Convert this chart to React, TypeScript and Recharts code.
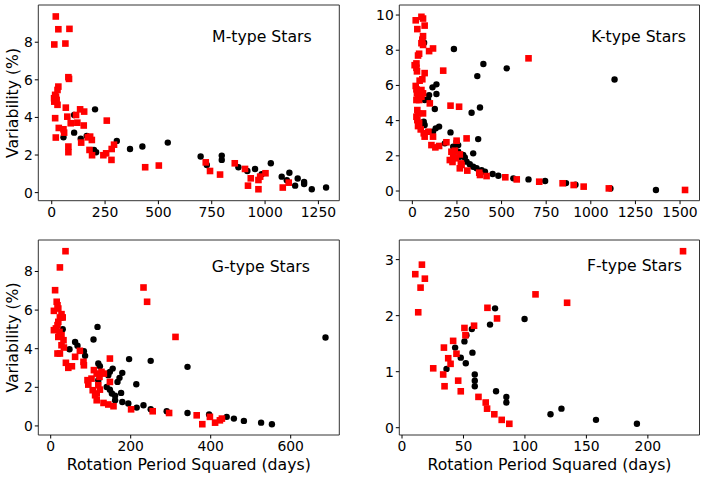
import React from 'react';
import { ScatterChart, Scatter, XAxis, YAxis, ReferenceArea } from 'recharts';

// [rotation period squared, variability %]
const mBlack: [number, number][] = [
  [55, 2.94], [105, 4.13], [105, 3.19], [136, 2.87], [203, 4.43], [164, 3.02],
  [198, 2.27], [208, 2.15], [305, 2.75], [367, 2.32], [425, 2.45], [544, 2.66],
  [698, 1.92], [727, 1.47], [797, 1.97], [797, 1.74], [875, 1.35], [917, 1.15],
  [953, 1.26], [984, 0.98], [1027, 1.56], [1078, 0.85], [1102, 0.66], [1114, 1.06],
  [1141, 0.37], [1153, 0.75], [1183, 0.57], [1183, 0.46], [1219, 0.18], [1286, 0.27],
];
const mRed: [number, number][] = [
  [19, 9.37], [31, 8.69], [83, 8.71], [12, 7.88], [64, 7.93], [78, 6.14], [81, 6.05],
  [31, 5.64], [27, 5.46], [16, 5.2], [11, 5.02], [12, 4.84], [23, 4.93], [27, 4.67],
  [20, 5.1], [66, 4.52], [16, 3.96], [73, 4.04], [114, 4.13], [133, 4.43], [152, 4.31],
  [89, 3.69], [120, 3.72], [150, 3.57], [258, 3.83], [33, 3.44], [55, 3.37], [58, 3.19],
  [19, 2.93], [138, 2.66], [169, 2.94], [180, 2.98], [188, 2.8], [78, 2.45], [78, 2.15],
  [177, 2.27], [189, 1.99], [242, 1.99], [255, 2.09], [281, 2.32], [292, 2.55], [280, 1.74],
  [438, 1.35], [502, 1.44], [722, 1.61], [742, 1.15], [789, 0.96], [858, 1.56], [906, 1.26],
  [920, 0.37], [933, 0.76], [969, 0.67], [969, 0.18], [977, 0.85], [1002, 1.03],
  [1083, 0.27], [1111, 0.53],
];

const kBlack: [number, number][] = [
  [66, 8.43], [233, 8.07], [398, 7.22], [529, 6.97], [364, 6.53], [1133, 6.34],
  [135, 6.06], [113, 5.89], [94, 5.45], [135, 5.51], [69, 5.17], [88, 5.21], [126, 4.66],
  [332, 4.45], [379, 4.75], [64, 3.94], [69, 3.75], [116, 3.37], [131, 3.56], [150, 3.66],
  [214, 3.33], [369, 2.95], [229, 2.52], [248, 2.8], [257, 2.61], [341, 2.14], [182, 2.71],
  [257, 2.23], [266, 1.95], [285, 2.05], [294, 1.91], [304, 1.67], [322, 1.52], [341, 1.38],
  [360, 1.29], [388, 1.19], [407, 1.1], [450, 0.97], [482, 0.87], [566, 0.72], [651, 0.66],
  [744, 0.57], [861, 0.45], [914, 0.36], [1110, 0.15], [1365, 0.06],
];
const kRed: [number, number][] = [
  [51, 9.9], [60, 9.8], [19, 9.7], [69, 9.4], [28, 9.2], [60, 8.8], [56, 8.6], [51, 8.4],
  [60, 8.3], [38, 7.8], [32, 7.7], [94, 7.95], [116, 8.1], [13, 7.15], [23, 7.25], [23, 7.0],
  [26, 6.8], [69, 6.7], [173, 6.84], [56, 6.35], [41, 6.27], [19, 5.97], [23, 5.78],
  [26, 5.55], [32, 5.36], [38, 5.17], [23, 5.17], [51, 5.74], [60, 5.55], [51, 5.36],
  [98, 4.98], [214, 4.85], [262, 4.79], [28, 4.6], [32, 4.41], [23, 4.22], [28, 4.03],
  [38, 3.88], [32, 3.69], [60, 4.41], [47, 3.5], [64, 3.28], [69, 3.09], [90, 3.37],
  [116, 3.09], [107, 2.61], [129, 2.48], [150, 2.56], [191, 2.77], [248, 2.86], [304, 2.99],
  [219, 2.23], [229, 2.1], [238, 2.29], [210, 1.76], [225, 1.65], [244, 1.86], [266, 2.08],
  [272, 1.57], [266, 1.29], [276, 1.48], [308, 1.16], [375, 1.04], [379, 0.91], [416, 0.85],
  [521, 0.78], [585, 0.66], [711, 0.53], [842, 0.44], [904, 0.34], [960, 0.25], [1101, 0.15],
  [1528, 0.06], [651, 7.54],
];

const gBlack: [number, number][] = [
  [30, 5.62], [30, 5.01], [47, 3.97], [61, 4.35], [67, 4.15], [83, 3.87], [86, 3.63],
  [107, 4.48], [117, 5.13], [119, 3.23], [123, 3.09], [119, 2.37], [144, 2.63], [148, 2.8],
  [155, 2.97], [140, 2.02], [148, 1.88], [153, 1.68], [161, 1.56], [161, 1.33], [167, 2.28],
  [172, 2.49], [176, 1.71], [179, 2.75], [196, 3.46], [214, 2.16], [179, 1.24], [194, 1.16],
  [215, 0.95], [232, 1.07], [250, 3.37], [250, 0.86], [290, 0.76], [342, 3.06], [342, 0.67],
  [396, 0.59], [440, 0.47], [458, 0.38], [483, 0.26], [526, 0.17], [553, 0.09], [687, 4.58],
];
const gRed: [number, number][] = [
  [37, 9.05], [23, 8.21], [11, 7.03], [8, 5.96], [15, 6.43], [17, 6.25], [19, 6.08],
  [27, 5.79], [30, 5.62], [23, 5.62], [19, 5.39], [17, 5.22], [13, 5.05], [8, 4.96],
  [22, 4.87], [27, 4.7], [19, 4.61], [32, 4.44], [27, 4.18], [33, 4.06], [23, 3.75],
  [17, 3.75], [38, 3.27], [44, 3.01], [53, 3.09], [61, 3.58], [73, 3.89], [82, 3.32],
  [83, 3.14], [232, 7.17], [241, 6.43], [312, 4.61], [148, 3.49], [92, 2.37], [102, 2.45],
  [94, 2.14], [105, 1.85], [111, 1.59], [115, 1.33], [108, 2.89], [115, 2.71], [122, 2.54],
  [127, 2.8], [133, 2.71], [119, 2.11], [123, 1.88], [115, 1.68], [132, 1.19], [144, 1.11],
  [157, 1.02], [148, 2.28], [201, 0.86], [255, 0.76], [296, 0.67], [365, 0.55], [379, 0.09],
  [398, 0.47], [411, 0.17], [423, 0.29], [428, 0.38],
];

const fBlack: [number, number][] = [
  [36.2, 1.05], [43.2, 1.43], [47.8, 1.25], [50.8, 1.54], [51.9, 1.15], [52.4, 1.65],
  [56.8, 1.76], [57.3, 1.34], [59.2, 0.95], [59.2, 0.84], [59.2, 0.74], [71.6, 1.84],
  [75.7, 2.13], [76.5, 0.65], [84.9, 0.55], [84.9, 0.45], [99.7, 1.94], [120.8, 0.24],
  [129.7, 0.34], [157.8, 0.14], [191.1, 0.07],
];
const fRed: [number, number][] = [
  [10.8, 2.74], [16.2, 2.91], [18.6, 2.66], [15.1, 2.5], [13.2, 2.06], [25.4, 1.06],
  [34.1, 1.43], [33.5, 0.95], [34.6, 0.74], [37.6, 1.24], [39.5, 1.14], [41.6, 1.55],
  [44.3, 1.32], [45.7, 0.84], [47.8, 0.65], [50.8, 1.78], [51.6, 1.65], [58.6, 1.82],
  [62.2, 0.55], [68.1, 0.45], [69.2, 0.34], [69.5, 2.14], [77.3, 1.95], [75.1, 0.24],
  [81.1, 0.14], [87.3, 0.07], [108.6, 2.38], [134.3, 2.23], [228.6, 3.15],
];

const mXTicks = [0, 250, 500, 750, 1000, 1250];
const kXTicks = [0, 250, 500, 750, 1000, 1250, 1500];
const gXTicks = [0, 200, 400, 600];
const fXTicks = [0, 50, 100, 150, 200];
const mYTicks = [0, 2, 4, 6, 8];
const kYTicks = [0, 2, 4, 6, 8, 10];
const gYTicks = [0, 2, 4, 6, 8];
const fYTicks = [0, 1, 2, 3];

const titles = ['M-type Stars', 'K-type Stars', 'G-type Stars', 'F-type Stars'];
const yLabel = 'Variability (%)';
const xLabel = 'Rotation Period Squared (days)';

const FONT = '"DejaVu Sans", sans-serif';
const toPts = (arr: [number, number][]) => arr.map(([x, y]) => ({ x, y }));

const BlackDot = (p: any) => <circle cx={p.cx} cy={p.cy} r={3.2} fill="#000000" />;
const RedSquare = (p: any) => (
  <rect x={p.cx - 3.3} y={p.cy - 3.3} width={6.6} height={6.6} fill="#ff0000" />
);

interface PanelProps {
  left: number;
  top: number;
  height: number;
  margin: { top: number; right: number; bottom: number; left: number };
  xDomain: [number, number];
  yDomain: [number, number];
  xTicks: number[];
  yTicks: number[];
  black: [number, number][];
  red: [number, number][];
}

const tickStyle = { fill: '#000', fontSize: 13.9, fontFamily: FONT };

const Panel: React.FC<PanelProps> = ({
  left, top, height, margin, xDomain, yDomain, xTicks, yTicks, black, red,
}) => (
  <div style={{ position: 'absolute', left, top }}>
    <ScatterChart width={353} height={height} margin={margin}>
      <XAxis
        type="number"
        dataKey="x"
        domain={xDomain}
        allowDataOverflow
        ticks={xTicks}
        interval={0}
        height={25}
        axisLine={false}
        tickLine={{ stroke: '#000' }}
        tickSize={3.5}
        tickMargin={2.5}
        tick={tickStyle}
      />
      <YAxis
        type="number"
        dataKey="y"
        domain={yDomain}
        allowDataOverflow
        ticks={yTicks}
        interval={0}
        width={30}
        axisLine={false}
        tickLine={{ stroke: '#000' }}
        tickSize={3.5}
        tickMargin={2}
        tick={tickStyle}
      />
      <Scatter data={toPts(black)} shape={BlackDot} isAnimationActive={false} />
      <Scatter data={toPts(red)} shape={RedSquare} isAnimationActive={false} />
      <ReferenceArea
        x1={xDomain[0]}
        x2={xDomain[1]}
        y1={yDomain[0]}
        y2={yDomain[1]}
        fill="none"
        stroke="#333"
        strokeWidth={1}
        ifOverflow="visible"
      />
    </ScatterChart>
  </div>
);

export default function App() {
  const topMargin = { top: 5, right: 13.7, bottom: 4.3, left: 8.3 };
  const topMarginR = { top: 5, right: 6.5, bottom: 4.3, left: 16.3 };
  const botMargin = { top: 10, right: 13.7, bottom: 19, left: 8.3 };
  const botMarginR = { top: 10, right: 6.5, bottom: 19, left: 16.3 };

  return (
    <div
      style={{
        position: 'absolute', left: 0, top: 0, width: 706, height: 479,
        background: '#fff', fontFamily: FONT,
      }}
    >
      <Panel left={0} top={0} height={230} margin={topMargin}
        xDomain={[-63, 1348]} yDomain={[-0.43, 9.98]}
        xTicks={mXTicks} yTicks={mYTicks} black={mBlack} red={mRed} />
      <Panel left={353} top={0} height={230} margin={topMarginR}
        xDomain={[-73, 1609]} yDomain={[-0.55, 10.57]}
        xTicks={kXTicks} yTicks={kYTicks} black={kBlack} red={kRed} />
      <Panel left={0} top={230} height={249} margin={botMargin}
        xDomain={[-31, 721.5]} yDomain={[-0.47, 9.63]}
        xTicks={gXTicks} yTicks={gYTicks} black={gBlack} red={gRed} />
      <Panel left={353} top={230} height={249} margin={botMarginR}
        xDomain={[-2.2, 242]} yDomain={[-0.13, 3.35]}
        xTicks={fXTicks} yTicks={fYTicks} black={fBlack} red={fRed} />

      <svg width={706} height={479}
        style={{ position: 'absolute', left: 0, top: 0, pointerEvents: 'none' }}>
        <g fontFamily={FONT} fontSize={15.7} fill="#000">
          <text x={311.7} y={42.3} textAnchor="end">{titles[0]}</text>
          <text x={686} y={41.8} textAnchor="end">{titles[1]}</text>
          <text x={310} y={271.7} textAnchor="end">{titles[2]}</text>
          <text x={682} y={270.7} textAnchor="end">{titles[3]}</text>
          <text x={12.5} y={103} textAnchor="middle" dominantBaseline="central"
            transform="rotate(-90 12.5 103)">{yLabel}</text>
          <text x={12.5} y={337.5} textAnchor="middle" dominantBaseline="central"
            transform="rotate(-90 12.5 337.5)">{yLabel}</text>
          <text x={188.8} y={469.5} textAnchor="middle">{xLabel}</text>
          <text x={549.5} y={469.5} textAnchor="middle">{xLabel}</text>
        </g>
      </svg>
    </div>
  );
}
